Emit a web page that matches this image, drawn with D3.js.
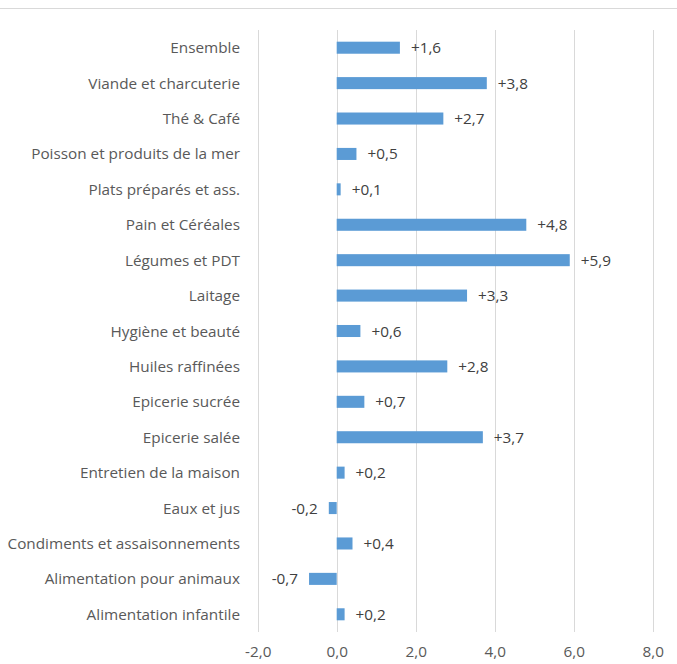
<!DOCTYPE html>
<html><head><meta charset="utf-8">
<script src="https://cdn.jsdelivr.net/npm/d3@7"></script>
<style>body{margin:0;background:#fff}svg{display:block}</style>
</head><body>
<script>
const categories = ["Ensemble","Viande et charcuterie","Thé & Café","Poisson et produits de la mer","Plats préparés et ass.","Pain et Céréales","Légumes et PDT","Laitage","Hygiène et beauté","Huiles raffinées","Epicerie sucrée","Epicerie salée","Entretien de la maison","Eaux et jus","Condiments et assaisonnements","Alimentation pour animaux","Alimentation infantile"];
const values = [1.6,3.8,2.7,0.5,0.1,4.8,5.9,3.3,0.6,2.8,0.7,3.7,0.2,-0.2,0.4,-0.7,0.2];
const ticks = [-2,0,2,4,6,8];

const W=677,H=664;
const font="'Open Sans', sans-serif";
const fs=15.3;
const svg=d3.select("body").append("svg").attr("width",W).attr("height",H);
svg.append("line").attr("x1",0).attr("x2",W).attr("y1",8.5).attr("y2",8.5).attr("stroke","#D9D9D9").attr("stroke-width",1);

const x=d3.scaleLinear().domain([-2,8]).range([257.7,652.7]);
const y=d3.scaleBand().domain(categories).range([30,632]).paddingInner(0.66).paddingOuter(0.33);

svg.append("g").selectAll("line").data(ticks).join("line")
  .attr("x1",d=>Math.round(x(d))+0.5).attr("x2",d=>Math.round(x(d))+0.5)
  .attr("y1",30).attr("y2",632).attr("stroke","#D9D9D9").attr("stroke-width",1);

const data=categories.map((c,i)=>({c,v:values[i]}));
svg.append("g").selectAll("rect").data(data).join("rect")
  .attr("x",d=>x(Math.min(0,d.v))).attr("width",d=>Math.abs(x(d.v)-x(0)))
  .attr("y",d=>y(d.c)).attr("height",y.bandwidth()).attr("fill","#5B9BD5");

const fmt=v=>(v>0?"+":"")+v.toFixed(1).replace(".",",");
svg.append("g").selectAll("text").data(data).join("text")
  .attr("x",d=>d.v>=0?x(d.v)+11:x(d.v)-11)
  .attr("y",d=>y(d.c)+y.bandwidth()/2).attr("dy","0.36em")
  .attr("text-anchor",d=>d.v>=0?"start":"end")
  .attr("font-family",font).attr("font-size",fs).attr("fill","#404040")
  .text(d=>fmt(d.v));

const yAxis=d3.axisLeft(y).tickSize(0).tickPadding(0);
const gy=svg.append("g").attr("transform","translate(240,0)").call(yAxis);
gy.select(".domain").remove();
gy.selectAll("text").attr("font-family",font).attr("font-size",fs).attr("fill","#595959").attr("dy","0.36em");

const xAxis=d3.axisBottom(x).tickValues(ticks).tickSize(0).tickPadding(0).tickFormat(d=>d.toFixed(1).replace(".",","));
const gx=svg.append("g").attr("transform","translate(0,646)").call(xAxis);
gx.select(".domain").remove();
gx.selectAll("text").attr("font-family",font).attr("font-size",fs).attr("fill","#595959").attr("dy","0.71em");
</script>
</body></html>
